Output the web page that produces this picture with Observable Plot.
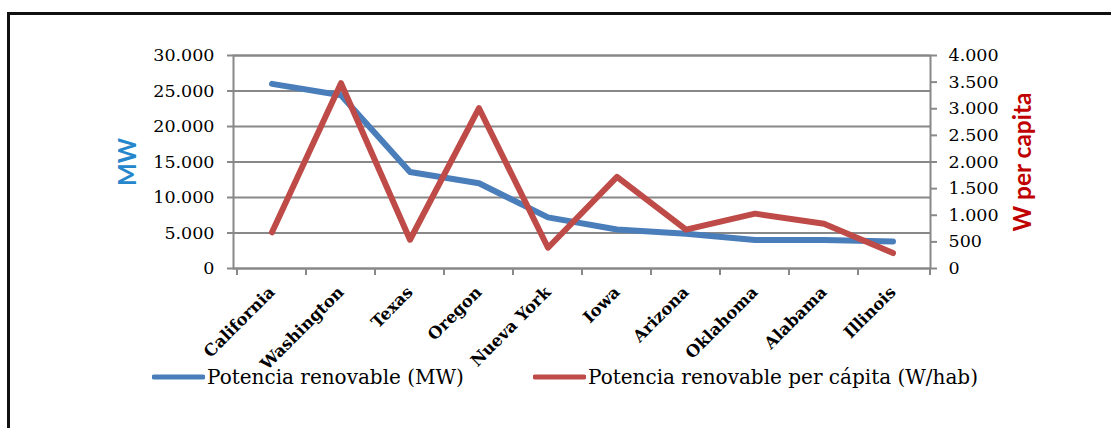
<!DOCTYPE html>
<html>
<head>
<meta charset="utf-8">
<script src="https://cdn.jsdelivr.net/npm/d3@7"></script>
<script src="https://cdn.jsdelivr.net/npm/@observablehq/plot@0.6"></script>
<style>
  html, body { margin: 0; padding: 0; background: #fff; }
  #wrap { position: relative; width: 1111px; height: 428px; overflow: hidden; }
  #border { position: absolute; left: 7px; top: 12px; width: 2000px; height: 1000px;
            border-left: 3px solid #111; border-top: 3px solid #111; }
  #chart { position: absolute; left: 0; top: 0; }
  .legend { position: absolute; top: 365px; font-family: "DejaVu Serif", serif; font-size: 20px;
            color: #000; display: flex; align-items: center; white-space: nowrap; }
  .legend svg { display: block; margin-right: 2px; }
</style>
</head>
<body>
<div id="wrap">
  <div id="border"></div>
  <div id="chart"></div>
</div>
<script>
// States ranked by installed renewable capacity
const states = ["California", "Washington", "Texas", "Oregon", "Nueva York",
                "Iowa", "Arizona", "Oklahoma", "Alabama", "Illinois"];
// Renewable capacity (MW)
const potenciaMW = [26000, 24400, 13600, 12000, 7200, 5500, 4900, 4000, 4000, 3800];
// Renewable capacity per capita (W/hab)
const potenciaPerCapita = [680, 3480, 540, 3010, 390, 1720, 730, 1030, 840, 290];

// Axis ticks
const leftTicks = [0, 5000, 10000, 15000, 20000, 25000, 30000];
const rightTicks = [0, 500, 1000, 1500, 2000, 2500, 3000, 3500, 4000];
const leftMax = 30000, rightMax = 4000;
const k = leftMax / rightMax; // maps W/hab onto the MW axis

const seriesNames = ["Potencia renovable (MW)", "Potencia renovable per cápita (W/hab)"];
const colors = ["#4a7ebb", "#be4b48"];

const locale = d3.formatLocale({decimal: ",", thousands: ".", grouping: [3], currency: ["", ""]});
const fmt = locale.format(",");

const rows = states.map((s, i) => ({state: s, mw: potenciaMW[i], wpc: potenciaPerCapita[i]}));
const gridColor = "#888888";

// Category boundary tick marks along the bottom axis
function boundaryTicks(index, scales, values, dimensions) {
  const {x} = scales;
  const bottom = dimensions.height - dimensions.marginBottom;
  const xs = states.map(s => x(s));
  xs.push(dimensions.width - dimensions.marginRight);
  const g = d3.create("svg:g").attr("stroke", gridColor).attr("stroke-width", 2);
  for (const px of xs) g.append("line").attr("x1", px).attr("x2", px).attr("y1", bottom).attr("y2", bottom + 7);
  return g.node();
}

const chart = Plot.plot({
  width: 1111,
  height: 350,
  marginLeft: 233,
  marginRight: 181,
  marginTop: 55,
  marginBottom: 82,
  style: {fontFamily: "DejaVu Serif, serif", fontSize: "17px", color: "#000", background: "transparent", overflow: "visible"},
  x: {type: "band", domain: states, padding: 0, axis: null},
  y: {domain: [0, leftMax], axis: null},
  marks: [
    Plot.ruleY(leftTicks, {stroke: gridColor, strokeWidth: 2}),
    Plot.frame({stroke: gridColor, strokeWidth: 2}),
    Plot.axisY({anchor: "left", ticks: leftTicks, tickFormat: fmt, tickSize: 6, tickPadding: 13,
                stroke: gridColor, strokeWidth: 2, strokeOpacity: 1, label: null, fontSize: 17.5}),
    Plot.axisY({anchor: "right", ticks: rightTicks.map(v => v * k), tickFormat: d => fmt(Math.round(d / k)),
                tickSize: 6, tickPadding: 12, stroke: gridColor, strokeWidth: 2, strokeOpacity: 1, label: null, fontSize: 17.5}),
    Plot.axisX({tickRotate: -45, tickSize: 0, tickPadding: 21, fontWeight: "bold", fontSize: 16.5, label: null}),
    boundaryTicks,
    Plot.text(["MW"], {frameAnchor: "left", dx: -105, rotate: -90, textAnchor: "middle", fill: "#2586cc",
                       fontWeight: "bold", fontSize: 24, fontFamily: "Lato, sans-serif"}),
    Plot.text(["W per capita"], {frameAnchor: "right", dx: 93, rotate: -90, textAnchor: "middle", fill: "#c00000",
                       fontWeight: "bold", fontSize: 24.5, fontFamily: "Lato, sans-serif"}),
    Plot.line(rows, {x: "state", y: "mw", stroke: colors[0], strokeWidth: 6, strokeLinecap: "round", strokeLinejoin: "round"}),
    Plot.line(rows, {x: "state", y: d => d.wpc * k, stroke: colors[1], strokeWidth: 6, strokeLinecap: "round", strokeLinejoin: "round"})
  ]
});
document.getElementById("chart").appendChild(chart);

// Legend below the plot
const legendLefts = [152, 533];
seriesNames.forEach((name, i) => {
  const item = document.createElement("div");
  item.className = "legend";
  item.style.left = legendLefts[i] + "px";
  const sw = d3.create("svg").attr("width", 53).attr("height", 10);
  sw.append("line").attr("x1", 2).attr("x2", 51).attr("y1", 5).attr("y2", 5)
    .attr("stroke", colors[i]).attr("stroke-width", 5).attr("stroke-linecap", "round");
  item.appendChild(sw.node());
  const t = document.createElement("span");
  t.textContent = name;
  item.appendChild(t);
  document.getElementById("wrap").appendChild(item);
});
</script>
</body>
</html>
